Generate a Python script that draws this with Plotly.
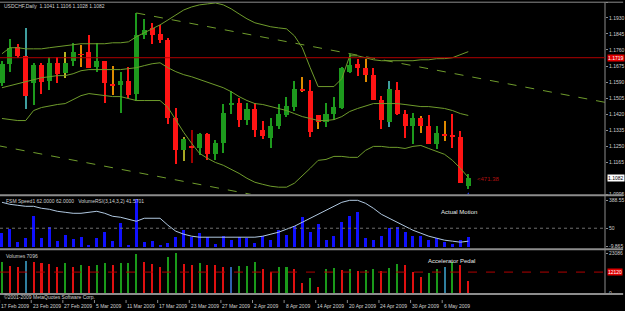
import plotly.graph_objects as go

# ---------------- data ----------------
dates = ["2009-02-17", "2009-02-18", "2009-02-19", "2009-02-20", "2009-02-23", "2009-02-24", "2009-02-25",
         "2009-02-26", "2009-02-27", "2009-03-02", "2009-03-03", "2009-03-04", "2009-03-05", "2009-03-06",
         "2009-03-09", "2009-03-10", "2009-03-11", "2009-03-12", "2009-03-13", "2009-03-16", "2009-03-17",
         "2009-03-18", "2009-03-19", "2009-03-20", "2009-03-23", "2009-03-24", "2009-03-25", "2009-03-26",
         "2009-03-27", "2009-03-30", "2009-03-31", "2009-04-01", "2009-04-02", "2009-04-03", "2009-04-06",
         "2009-04-07", "2009-04-08", "2009-04-09", "2009-04-10", "2009-04-13", "2009-04-14", "2009-04-15",
         "2009-04-16", "2009-04-17", "2009-04-20", "2009-04-21", "2009-04-22", "2009-04-23", "2009-04-24",
         "2009-04-27", "2009-04-28", "2009-04-29", "2009-04-30", "2009-05-01", "2009-05-04", "2009-05-05",
         "2009-05-06", "2009-05-07", "2009-05-08", "2009-05-11"]

date_labels = ["17 Feb 2009", "23 Feb 2009", "27 Feb 2009", "5 Mar 2009", "11 Mar 2009", "17 Mar 2009",
               "23 Mar 2009", "27 Mar 2009", "2 Apr 2009", "8 Apr 2009", "14 Apr 2009", "20 Apr 2009",
               "24 Apr 2009", "30 Apr 2009", "6 May 2009"]

open_ = [1.1587, 1.1687, 1.1777, 1.1729, 1.1587, 1.1682, 1.1597, 1.1692, 1.1640, 1.1703,
         1.1740, 1.1750, 1.1671, 1.1703, 1.1578, 1.1576, 1.1597, 1.1529, 1.1840, 1.1877,
         1.1846, 1.1814, 1.1402, 1.1233, 1.1252, 1.1244, 1.1318, 1.1212, 1.1270, 1.1471,
         1.1481, 1.1391, 1.1450, 1.1339, 1.1296, 1.1360, 1.1418, 1.1460, 1.1555, 1.1545,
         1.1418, 1.1381, 1.1423, 1.1455, 1.1645, 1.1687, 1.1666, 1.1629, 1.1497, 1.1381,
         1.1550, 1.1423, 1.1360, 1.1402, 1.1360, 1.1265, 1.1318, 1.1312, 1.1302, 1.1041]
high = [1.1703, 1.1819, 1.1793, 1.1877, 1.1692, 1.1692, 1.1724, 1.1724, 1.1750, 1.1798,
        1.1787, 1.1840, 1.1798, 1.1706, 1.1677, 1.1645, 1.1671, 1.1956, 1.1925, 1.1904,
        1.1893, 1.1824, 1.1455, 1.1302, 1.1339, 1.1322, 1.1322, 1.1286, 1.1476, 1.1545,
        1.1508, 1.1481, 1.1481, 1.1386, 1.1402, 1.1476, 1.1513, 1.1597, 1.1618, 1.1603,
        1.1420, 1.1481, 1.1513, 1.1671, 1.1740, 1.1714, 1.1714, 1.1666, 1.1518, 1.1597,
        1.1592, 1.1444, 1.1428, 1.1413, 1.1418, 1.1360, 1.1386, 1.1423, 1.1333, 1.1106]
low = [1.1571, 1.1645, 1.1719, 1.1450, 1.1471, 1.1529, 1.1550, 1.1587, 1.1613, 1.1677,
       1.1671, 1.1664, 1.1645, 1.1481, 1.1523, 1.1428, 1.1508, 1.1492, 1.1819, 1.1793,
       1.1798, 1.1370, 1.1159, 1.1175, 1.1164, 1.1207, 1.1180, 1.1180, 1.1217, 1.1423,
       1.1354, 1.1365, 1.1302, 1.1291, 1.1244, 1.1344, 1.1407, 1.1439, 1.1539, 1.1302,
       1.1344, 1.1354, 1.1391, 1.1452, 1.1640, 1.1624, 1.1592, 1.1495, 1.1344, 1.1354,
       1.1420, 1.1296, 1.1265, 1.1323, 1.1263, 1.1238, 1.1281, 1.1244, 1.1057, 1.1028]
close = [1.1687, 1.1772, 1.1729, 1.1518, 1.1682, 1.1592, 1.1692, 1.1634, 1.1692, 1.1750,
         1.1738, 1.1666, 1.1703, 1.1587, 1.1574, 1.1597, 1.1523, 1.1840, 1.1867, 1.1840,
         1.1814, 1.1402, 1.1233, 1.1291, 1.1246, 1.1318, 1.1212, 1.1270, 1.1428, 1.1481,
         1.1391, 1.1450, 1.1339, 1.1307, 1.1360, 1.1423, 1.1465, 1.1555, 1.1545, 1.1328,
         1.1381, 1.1423, 1.1460, 1.1666, 1.1682, 1.1666, 1.1629, 1.1497, 1.1391, 1.1555,
         1.1423, 1.1360, 1.1402, 1.1360, 1.1265, 1.1323, 1.1307, 1.1302, 1.1059, 1.1082]

bb_upper = [1.1740, 1.1772, 1.1772, 1.1766, 1.1766, 1.1766, 1.1772, 1.1777, 1.1782, 1.1787,
            1.1793, 1.1793, 1.1793, 1.1793, 1.1798, 1.1798, 1.1803, 1.1830, 1.1851, 1.1872,
            1.1893, 1.1919, 1.1946, 1.1972, 1.1988, 1.1999, 1.2004, 1.2009, 1.1999, 1.1978,
            1.1951, 1.1925, 1.1904, 1.1893, 1.1883, 1.1877, 1.1872, 1.1835, 1.1772, 1.1666,
            1.1566, 1.1566, 1.1566, 1.1608, 1.1729, 1.1729, 1.1719, 1.1708, 1.1703, 1.1703,
            1.1703, 1.1703, 1.1703, 1.1708, 1.1708, 1.1714, 1.1714, 1.1719, 1.1735, 1.1751]
bb_mid = [1.1560, 1.1571, 1.1582, 1.1592, 1.1603, 1.1613, 1.1618, 1.1624, 1.1624, 1.1634,
          1.1650, 1.1656, 1.1656, 1.1656, 1.1656, 1.1656, 1.1661, 1.1666, 1.1677, 1.1687,
          1.1692, 1.1666, 1.1645, 1.1629, 1.1618, 1.1603, 1.1592, 1.1576, 1.1560, 1.1539,
          1.1513, 1.1492, 1.1476, 1.1471, 1.1460, 1.1450, 1.1439, 1.1423, 1.1407, 1.1397,
          1.1386, 1.1386, 1.1391, 1.1407, 1.1434, 1.1450, 1.1465, 1.1476, 1.1476, 1.1476,
          1.1476, 1.1471, 1.1465, 1.1460, 1.1460, 1.1455, 1.1450, 1.1439, 1.1423, 1.1413]
bb_lower = [1.1397, 1.1391, 1.1386, 1.1386, 1.1439, 1.1455, 1.1465, 1.1471, 1.1476, 1.1497,
            1.1518, 1.1529, 1.1523, 1.1518, 1.1513, 1.1513, 1.1502, 1.1492, 1.1492, 1.1492,
            1.1492, 1.1455, 1.1386, 1.1323, 1.1265, 1.1212, 1.1186, 1.1164, 1.1149, 1.1128,
            1.1106, 1.1080, 1.1059, 1.1048, 1.1038, 1.1033, 1.1033, 1.1054, 1.1091, 1.1133,
            1.1175, 1.1180, 1.1196, 1.1196, 1.1191, 1.1191, 1.1228, 1.1249, 1.1249, 1.1244,
            1.1244, 1.1238, 1.1249, 1.1254, 1.1238, 1.1223, 1.1207, 1.1175, 1.1133, 1.1085]

# trend channel drawn on the chart: (bar index, price) end points
trend_upper_x = [17, 76.5]
trend_upper_y = [1.1956, 1.1481]
trend_lower_x = [-0.5, 31.5]
trend_lower_y = [1.1253, 1.0995]
level_price = 1.1719

# sub-window 1: speed histogram + VolumeRSI line
speed = [28, 36, 10, 18, 62, 18, 40, 12, 24, 16, 20, 2, 18, 30, 12, 48, 4, 96, 10, 12,
         4, 8, 20, 34, 20, 28, 20, 6, 22, 14, 20, 18, 8, 22, 14, 34, 24, 42, 60, 30,
         46, 14, 22, 50, 62, 70, 18, 14, 22, 38, 40, 30, 22, 22, 14, 18, 10, 6, 14, 20]
vol_rsi = [90, 86, 84, 82, 82, 78, 76, 72, 70, 68, 68, 70, 72, 68, 62, 60, 56, 52, 58, 58,
           58, 44, 32, 26, 22, 20, 20, 20, 19, 19, 20, 20, 20, 22, 26, 30, 36, 42, 50, 58,
           66, 74, 82, 90, 94, 94, 88, 78, 66, 58, 50, 42, 34, 28, 22, 18, 14, 12, 10, 12]
rsi_level = 38

# sub-window 2: volumes
volumes = [17890, 15580, 15000, 18460, 17890, 17310, 16730, 15000, 17310, 15000,
           16160, 15580, 16160, 17310, 16160, 17310, 17400, 22500, 17890, 16730,
           15000, 20770, 23086, 16730, 16160, 17310, 16160, 16160, 15000, 15000,
           15580, 15800, 17890, 13850, 12120, 15000, 15200, 13850, 5770, 8660,
           3460, 13850, 14430, 13270, 13850, 12690, 13270, 13850, 12690, 14430,
           16730, 16160, 12000, 9230, 11540, 13850, 15000, 17890, 16160, 7096]
vol_level = 12120

# ---------------- styles ----------------
GREEN = "#1d9a1d"
RED = "#ff1414"
BAND = "#6f9c2c"
ORANGE = "#e08a00"
GRAY = "#8c8c8c"
TXT = "#d0d0d0"
FONT = "Liberation Sans"

n = len(dates)
idx = list(range(n))
up = [c >= o for o, c in zip(open_, close)]

wick_override = {3: "#3f9e9e", 8: "#b5b522", 10: ORANGE, 14: ORANGE, 23: "#a8a824", 24: "#a00000",
                 38: ORANGE, 40: ORANGE, 46: ORANGE, 49: "#3f9e9e", 53: ORANGE, 56: ORANGE}
wick_col = [wick_override.get(i, GREEN if up[i] else RED) for i in idx]
body_col = [GREEN if u else RED for u in up]

vol_override = {3: "#2f7f9f", 29: "#2f5faf", 56: "#2f7f9f"}
vol_col = []
for i in idx:
    if i in vol_override:
        vol_col.append(vol_override[i])
    elif i == 0 or volumes[i] > volumes[i - 1]:
        vol_col.append("#1a9a1a")
    else:
        vol_col.append("#e01010")

fig = go.Figure()

# bands
for band in (bb_upper, bb_mid, bb_lower):
    fig.add_trace(go.Scatter(x=idx, y=band, mode="lines", line=dict(color=BAND, width=1),
                             hoverinfo="skip", yaxis="y"))
# trend channel
fig.add_trace(go.Scatter(x=trend_upper_x, y=trend_upper_y, mode="lines",
                         line=dict(color=BAND, width=1, dash="dash"), yaxis="y"))
fig.add_trace(go.Scatter(x=trend_lower_x, y=trend_lower_y, mode="lines",
                         line=dict(color=BAND, width=1, dash="dash"), yaxis="y"))

# candles: wicks then bodies
fig.add_trace(go.Bar(x=idx, y=[h - l for h, l in zip(high, low)], base=low, width=0.13,
                     marker=dict(color=wick_col, line=dict(width=0)), yaxis="y"))
fig.add_trace(go.Bar(x=idx, y=[max(abs(c - o), 0.00012) for o, c in zip(open_, close)],
                     base=[min(o, c) for o, c in zip(open_, close)], width=0.64,
                     marker=dict(color=body_col, line=dict(width=0)), yaxis="y"))
# arrow under last bar
fig.add_trace(go.Scatter(x=[idx[-1]], y=[low[-1] - 0.0022], mode="markers",
                         marker=dict(symbol="arrow-up", size=6, color="#2040ff"), yaxis="y"))

# sub-window 1
fig.add_trace(go.Bar(x=idx, y=speed, width=0.38, marker=dict(color="#1010ff", line=dict(width=0)),
                     yaxis="y2"))
fig.add_trace(go.Scatter(x=idx, y=vol_rsi, mode="lines", line=dict(color="#b0c8e0", width=1),
                         yaxis="y2"))

# sub-window 2
fig.add_trace(go.Bar(x=idx, y=volumes, width=0.26, marker=dict(color=vol_col, line=dict(width=0)),
                     yaxis="y3"))

H_PLOT = 295.0


def py(p):
    return (H_PLOT - p) / H_PLOT


shapes = []
# separators
for p in (1.2, 195, 249, 294):
    shapes.append(dict(type="line", xref="paper", yref="paper", x0=0, x1=1.03, y0=py(p), y1=py(p),
                       line=dict(color=GRAY, width=2 if p > 2 else 1)))
shapes.append(dict(type="line", xref="paper", yref="paper", x0=1, x1=1, y0=0, y1=py(1.2),
                   line=dict(color=GRAY, width=1)))
shapes.append(dict(type="line", xref="paper", yref="y", x0=0, x1=1, y0=level_price, y1=level_price,
                   line=dict(color="#b00000", width=1)))
shapes.append(dict(type="line", xref="paper", yref="y2", x0=0, x1=1, y0=rsi_level, y1=rsi_level,
                   line=dict(color="#707070", width=1, dash="dot")))
shapes.append(dict(type="line", xref="paper", yref="y3", x0=0, x1=1, y0=vol_level, y1=vol_level,
                   line=dict(color="#b00000", width=1, dash="dash")))

ann = []
for k, lab in enumerate(date_labels):
    ann.append(dict(x=4 * k, y=py(306), xref="x", yref="paper", text=lab, showarrow=False,
                    xanchor="left", yanchor="middle", xshift=-3, font=dict(size=5, color=TXT, family=FONT)))
    shapes.append(dict(type="line", xref="x", yref="paper", x0=4 * k - 0.3, x1=4 * k - 0.3,
                       y0=py(300), y1=py(303), line=dict(color=GRAY, width=1)))

ann += [
    dict(x=0.004, y=py(5.5), xref="paper", yref="paper", text="USDCHF,Daily  1.1041 1.1106 1.1028 1.1082",
         showarrow=False, xanchor="left", yanchor="middle", font=dict(size=5, color=TXT, family=FONT)),
    dict(x=0.006, y=py(201), xref="paper", yref="paper",
         text="FSM Speed1 62.0000 62.0000   VolumeRSI(3,14,3,2) 41.5701",
         showarrow=False, xanchor="left", yanchor="middle", font=dict(size=5, color=TXT, family=FONT)),
    dict(x=0.006, y=py(256), xref="paper", yref="paper", text="Volumes 7096",
         showarrow=False, xanchor="left", yanchor="middle", font=dict(size=5, color=TXT, family=FONT)),
    dict(x=0.004, y=py(297.5), xref="paper", yref="paper", text="©2001-2009 MetaQuotes Software Corp.",
         showarrow=False, xanchor="left", yanchor="middle", font=dict(size=5, color=TXT, family=FONT)),
    dict(x=440 / 607, y=py(212), xref="paper", yref="paper", text="Actual Motion",
         showarrow=False, xanchor="left", yanchor="middle", font=dict(size=6, color="#e8e8e8", family=FONT)),
    dict(x=427 / 607, y=py(261), xref="paper", yref="paper", text="Accelerator Pedal",
         showarrow=False, xanchor="left", yanchor="middle", font=dict(size=6, color="#e8e8e8", family=FONT)),
    dict(x=idx[-1] + 0.9, y=close[-1] - 0.0004, xref="x", yref="y", text="<471.38",
         showarrow=False, xanchor="left", yanchor="middle", font=dict(size=6, color="#b01010", family=FONT)),
    # right side value boxes
    dict(x=1.003, y=level_price, xref="paper", yref="y", text="1.1719", showarrow=False,
         xanchor="left", yanchor="middle", bgcolor="#e00000", borderpad=0,
         font=dict(size=5, color="white", family=FONT)),
    dict(x=1.003, y=close[-1], xref="paper", yref="y", text="1.1082", showarrow=False,
         xanchor="left", yanchor="middle", bgcolor="white", borderpad=0,
         font=dict(size=5, color="black", family=FONT)),
    dict(x=1.003, y=vol_level, xref="paper", yref="y3", text="12120", showarrow=False,
         xanchor="left", yanchor="middle", bgcolor="#e00000", borderpad=0,
         font=dict(size=5, color="white", family=FONT)),
]

price_ticks = [1.1930, 1.1845, 1.1760, 1.1675, 1.1590, 1.1505, 1.1420, 1.1335, 1.1250, 1.1165, 1.0995, 1.2011]

fig.update_layout(
    width=625, height=311,
    margin=dict(l=0, r=18, t=0, b=16),
    paper_bgcolor="black", plot_bgcolor="black",
    showlegend=False, barmode="overlay", bargap=0,
    font=dict(family=FONT, size=5, color=TXT),
    xaxis=dict(range=[-0.25, 76.3], visible=False, fixedrange=True),
    yaxis=dict(domain=[py(194), py(1.6)], range=[1.0995, 1.2011], side="right",
               tickvals=price_ticks, ticktext=["%.4f" % t for t in price_ticks],
               ticks="outside", ticklen=2, tickcolor=GRAY, showgrid=False, zeroline=False,
               tickfont=dict(size=5, color=TXT)),
    yaxis2=dict(domain=[py(247), py(197)], range=[0, 100], side="right", anchor="x",
                tickvals=[94, rsi_level, 2], ticktext=["388.55", "50", "-9.865"],
                ticks="outside", ticklen=2, tickcolor=GRAY, showgrid=False, zeroline=False,
                tickfont=dict(size=5, color=TXT)),
    yaxis3=dict(domain=[py(293), py(251)], range=[0, 24240], side="right", anchor="x",
                tickvals=[23086, 0], ticktext=["23086", "0"],
                ticks="outside", ticklen=2, tickcolor=GRAY, showgrid=False, zeroline=False,
                tickfont=dict(size=5, color=TXT)),
    shapes=shapes, annotations=ann,
)

fig.write_html("out.html")
